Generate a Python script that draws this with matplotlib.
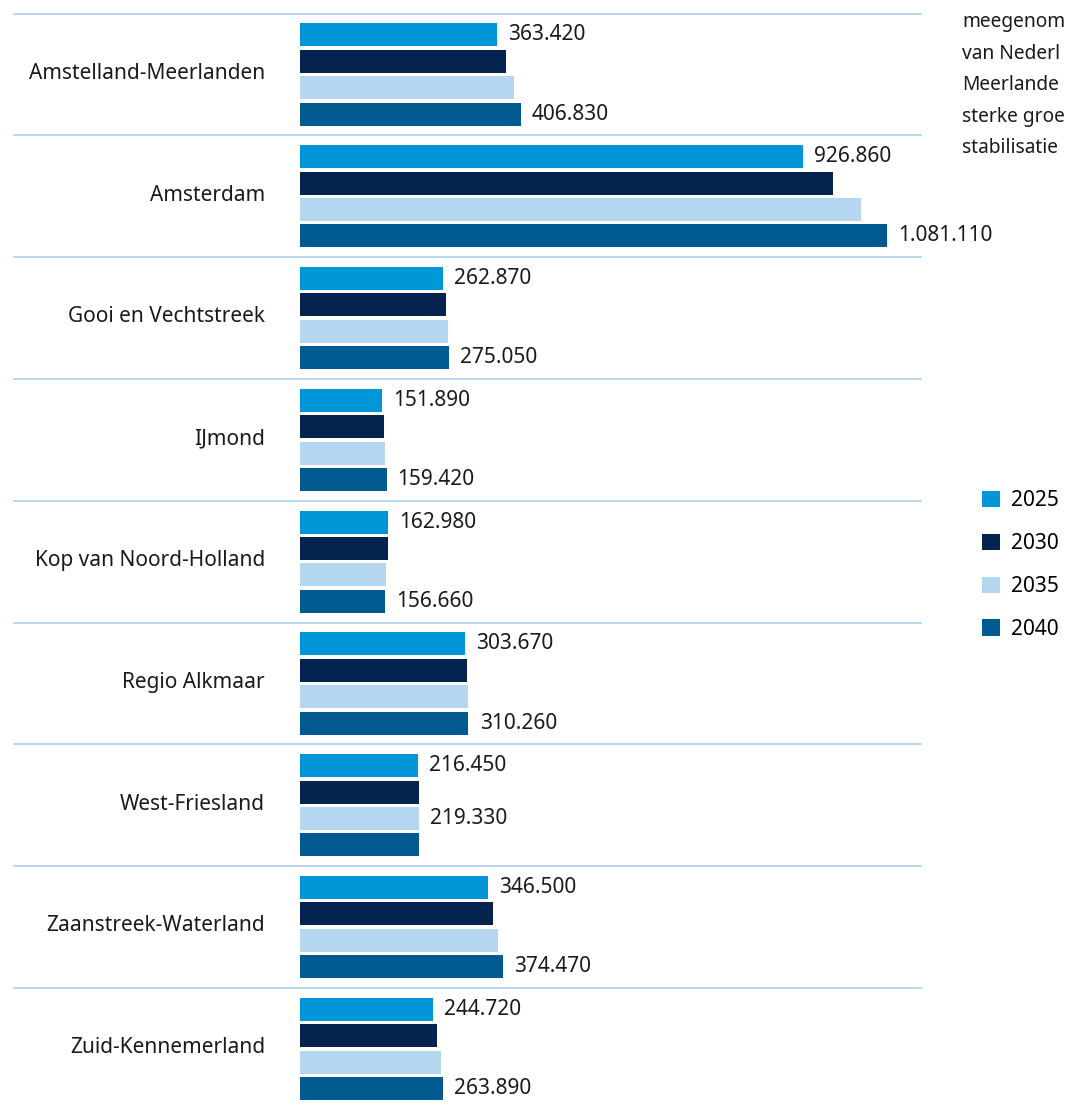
import matplotlib.pyplot as plt
from matplotlib.patches import Patch

plt.rcParams['font.family'] = ['Noto Sans', 'DejaVu Sans']

regions = ['Amstelland-Meerlanden', 'Amsterdam', 'Gooi en Vechtstreek', 'IJmond',
           'Kop van Noord-Holland', 'Regio Alkmaar', 'West-Friesland',
           'Zaanstreek-Waterland', 'Zuid-Kennemerland']
years = ['2025', '2030', '2035', '2040']

pop_2025 = [363420, 926860, 262870, 151890, 162980, 303670, 216450, 346500, 244720]
pop_2030 = [379400, 981700, 269000, 154700, 162000, 307500, 219000, 355500, 252300]
pop_2035 = [394000, 1033000, 272600, 156500, 158400, 309400, 219330, 364700, 259700]
pop_2040 = [406830, 1081110, 275050, 159420, 156660, 310260, 219500, 374470, 263890]

# which bars per region carry a value label (index into years)
label_rows = [(0, 3), (0, 3), (0, 3), (0, 3), (0, 3), (0, 3), (0, 2), (0, 3), (0, 3)]

# running text next to the chart, only its start is in frame
side_text = ['meegenom', 'van Nederl', 'Meerlande', 'sterke groe', 'stabilisatie']

colors = ['#0096d8', '#05234f', '#b4d6f1', '#015a8f']
series = [pop_2025, pop_2030, pop_2035, pop_2040]

W, H = 1065, 1105
fig = plt.figure(figsize=(W / 100, H / 100), dpi=100)
ax = fig.add_axes([300 / W, 0, 621 / W, (H - 13.6) / H])

pitch = 0.2167
height = 0.189
for k, (vals, col) in enumerate(zip(series, colors)):
    offs = (k - 1.5) * pitch
    ax.barh([i + offs for i in range(len(regions))], vals, height=height, color=col)

fmt = lambda v: f"{v:,}".replace(",", ".")
for i, rows in enumerate(label_rows):
    for k in rows:
        v = series[k][i]
        ax.annotate(fmt(v), (v, i + (k - 1.5) * pitch), xytext=(8, 0),
                    textcoords='offset points', va='center', ha='left',
                    fontsize=15, color='#1a1a1a')

ytr = ax.get_yaxis_transform()
for i, name in enumerate(regions):
    ax.plot([-0.4606, 1], [i - 0.5, i - 0.5], transform=ytr, clip_on=False,
            color='#a9d1ee', lw=1.2)
    ax.text(-0.0564, i - 0.01, name, transform=ytr, ha='right', va='center',
            fontsize=15, color='#1a1a1a')

ax.set_xlim(0, 1143730)
ax.set_ylim(8.46, -0.5)
ax.axis('off')

handles = [Patch(facecolor=c, edgecolor='none') for c in colors]
fig.legend(handles, years, loc='upper left', bbox_to_anchor=(974 / W, 1 - 482 / H),
           frameon=False, fontsize=15, handlelength=0.85, handleheight=0.85,
           handletextpad=0.55, labelspacing=1.05, borderaxespad=0)

for j, line in enumerate(side_text):
    fig.text(962 / W, 1 - (27 + 31.6 * j) / H, line, fontsize=13.8,
             va='baseline', ha='left', color='#1a1a1a')

fig.savefig('out.png', dpi=100)
